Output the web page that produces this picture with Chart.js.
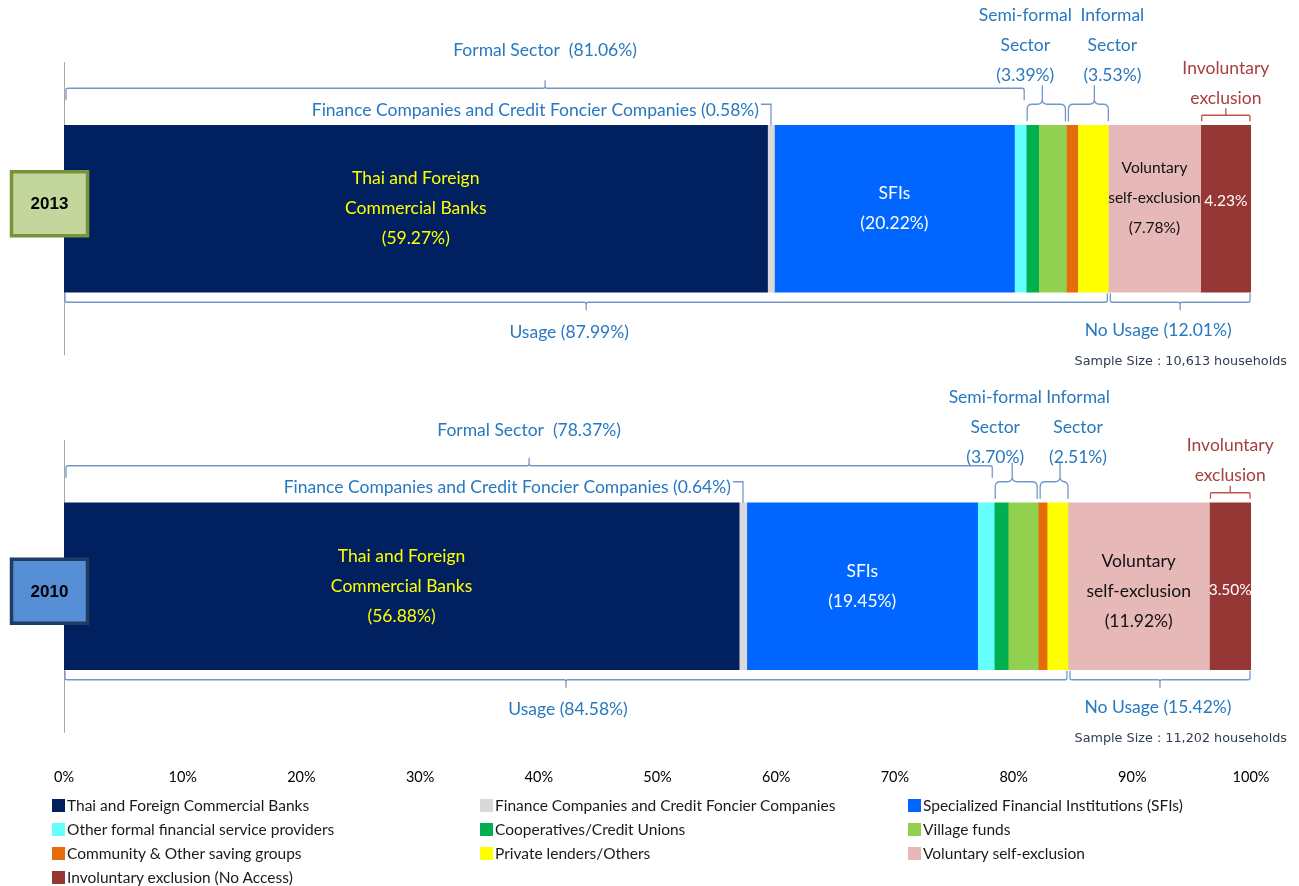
<!DOCTYPE html>
<html lang="en">
<head>
<meta charset="UTF-8">
<title>Access to financial services 2013 vs 2010</title>
<script src="https://cdn.jsdelivr.net/npm/chart.js"></script>
<style>
  body { margin: 0; background: #fff; }
  #wrap { position: relative; width: 1299px; height: 886px; overflow: hidden; }
  #legend {
    position: absolute; left: 52px; top: 793px; width: 1284px;
    display: grid; grid-template-columns: 428px 428px 428px;
    font-family: Lato, "Noto Sans", sans-serif; font-size: 15.5px; color: #1a1a1a;
  }
  #legend div { height: 24px; line-height: 24px; white-space: nowrap; }
  #legend span { display: inline-block; width: 13px; height: 13px; margin-right: 2px; vertical-align: -1px; }
</style>
</head>
<body>
<div id="wrap">
  <canvas id="chart" width="1299" height="886"></canvas>
  <div id="legend"></div>
</div>
<script>
// categories (top bar first)
const years = ['2013', '2010'];
const segments = [
  'Thai and Foreign Commercial Banks',
  'Finance Companies and Credit Foncier Companies',
  'Specialized Financial Institutions (SFIs)',
  'Other formal financial service providers',
  'Cooperatives/Credit Unions',
  'Village funds',
  'Community & Other saving groups',
  'Private lenders/Others',
  'Voluntary self-exclusion',
  'Involuntary exclusion (No Access)'
];
const colors = ['#002060', '#D9D9D9', '#0066FF', '#66FFFF', '#00B050', '#92D050', '#E46C0A', '#FFFF00', '#E6B9B8', '#953735'];

// share of households, % (same order as segments)
const share2013 = [59.27, 0.58, 20.22, 0.99, 1.05, 2.34, 0.95, 2.58, 7.78, 4.23];
const share2010 = [56.88, 0.64, 19.45, 1.40, 1.17, 2.53, 0.75, 1.76, 11.92, 3.50];

// group totals printed on the chart
const formalShare = [81.06, 78.37];
const semiShare = [3.39, 3.70];
const informalShare = [3.53, 2.51];
const usageShare = [87.99, 84.58];
const noUsageShare = [12.01, 15.42];
const sampleSize = ['10,613', '11,202'];

const xTicks = [0, 10, 20, 30, 40, 50, 60, 70, 80, 90, 100];

const FONT = 'Lato, "Noto Sans", sans-serif';
const BLUE_TXT = '#2878C0';
const BLUE_LINE = '#7398C8';
const RED_TXT = '#A4403D';
const RED_LINE = '#C0504D';

const shares = [share2013, share2010];

// legend
const legendEl = document.getElementById('legend');
segments.forEach((s, i) => {
  const d = document.createElement('div');
  d.innerHTML = '<span style="background:' + colors[i] + '"></span>' + s.replace('&', '&amp;');
  legendEl.appendChild(d);
});

function pct(v) { return v.toFixed(2) + '%'; }

// curly / square brace. ends at yEnd, horizontal at yLine, tip at yTip
function brace(ctx, x1, x2, xm, yEnd, yLine, yTip, r) {
  const d = Math.sign(yLine - yEnd);
  ctx.beginPath();
  ctx.moveTo(x1, yEnd);
  ctx.lineTo(x1, yLine - d * r);
  ctx.quadraticCurveTo(x1, yLine, x1 + r, yLine);
  ctx.lineTo(xm - r, yLine);
  ctx.quadraticCurveTo(xm, yLine, xm, yLine + d * r);
  ctx.lineTo(xm, yTip);
  ctx.moveTo(xm, yLine + d * r);
  ctx.quadraticCurveTo(xm, yLine, xm + r, yLine);
  ctx.lineTo(x2 - r, yLine);
  ctx.quadraticCurveTo(x2, yLine, x2, yLine - d * r);
  ctx.lineTo(x2, yEnd);
  ctx.stroke();
}

function lines(ctx, arr, x, yc, gap) {
  const y0 = yc - (arr.length - 1) * gap / 2;
  arr.forEach((t, k) => ctx.fillText(t, x, y0 + k * gap));
}

const annotations = {
  id: 'annotations',
  beforeDatasetsDraw(chart) {
    // y axis segments behind each bar
    const ctx = chart.ctx;
    const xs = chart.scales.x;
    ctx.save();
    ctx.strokeStyle = '#A6A6A6';
    ctx.lineWidth = 1;
    years.forEach((y, i) => {
      const el = chart.getDatasetMeta(0).data[i];
      const top = el.y - el.height / 2, bot = el.y + el.height / 2;
      ctx.beginPath();
      ctx.moveTo(xs.left + 0.5, top - 63);
      ctx.lineTo(xs.left + 0.5, bot + 63);
      ctx.stroke();
    });
    ctx.restore();
  },
  afterDatasetsDraw(chart) {
    const ctx = chart.ctx;
    const xs = chart.scales.x;
    const px = v => xs.getPixelForValue(v);
    ctx.save();
    years.forEach((year, i) => {
      const data = shares[i];
      const cum = [0];
      data.forEach(v => cum.push(cum[cum.length - 1] + v));
      const el = chart.getDatasetMeta(0).data[i];
      const T = el.y - el.height / 2, B = el.y + el.height / 2, C = el.y;
      const mid = k => px((cum[k] + cum[k + 1]) / 2);
      const first = i === 0;

      ctx.textAlign = 'center';
      ctx.textBaseline = 'middle';
      ctx.font = '17.5px ' + FONT;

      // labels inside the bar
      ctx.fillStyle = '#FFFF00';
      lines(ctx, ['Thai and Foreign', 'Commercial Banks', '(' + pct(data[0]) + ')'], mid(0), C, 30);
      ctx.fillStyle = '#FFFFFF';
      lines(ctx, ['SFIs', '(' + pct(data[2]) + ')'], mid(2), C, 30);
      ctx.fillStyle = '#111111';
      ctx.font = (first ? '15.5px ' : '17.5px ') + FONT;
      lines(ctx, ['Voluntary', 'self-exclusion', '(' + pct(data[8]) + ')'], mid(8), C + (first ? -11 : 5), 30);
      ctx.fillStyle = '#FFFFFF';
      ctx.font = '15.5px ' + FONT;
      ctx.fillText(pct(data[9]), mid(9), C + (first ? -8 : 4));
      ctx.font = '17.5px ' + FONT;

      // formal sector
      ctx.strokeStyle = BLUE_LINE;
      ctx.lineWidth = 1.3;
      const xf0 = px(0) + 2, xf1 = px(cum[4]) - 2;
      brace(ctx, xf0, xf1, (xf0 + xf1) / 2, T - 25, T - 37, T - 45, 2);
      ctx.fillStyle = BLUE_TXT;
      ctx.fillText('Formal Sector  (' + pct(formalShare[i]) + ')', (xf0 + xf1) / 2, T - (first ? 75 : 72));

      // finance companies leader
      ctx.textAlign = 'right';
      const xl = mid(1);
      ctx.fillText(segments[1] + ' (' + pct(data[1]) + ')', xl - 12, T - 15);
      ctx.beginPath();
      ctx.moveTo(xl - 10, T - 21);
      ctx.lineTo(xl, T - 21);
      ctx.lineTo(xl, T);
      ctx.stroke();
      ctx.textAlign = 'center';

      // semi-formal and informal braces
      const xs0 = px(cum[4]) + 1, xs1 = px(cum[6]) - 1;
      const xsm = (xs0 + xs1) / 2 - 4;
      brace(ctx, xs0, xs1, xsm, T - 4, T - 21, T - 40, 5);
      const xi0 = px(cum[6]) + 2, xi1 = px(cum[8]);
      const xim = (xi0 + xi1) / 2 + 6;
      brace(ctx, xi0, xi1, xim, T - 4, T - 21, T - 40, 5);
      const ys = T - (first ? 80 : 75);
      lines(ctx, ['Semi-formal', 'Sector', '(' + pct(semiShare[i]) + ')'], (xs0 + xs1) / 2 - 21, ys, 30);
      lines(ctx, ['Informal', 'Sector', '(' + pct(informalShare[i]) + ')'], (xi0 + xi1) / 2 + 24, ys, 30);

      // involuntary exclusion
      ctx.strokeStyle = RED_LINE;
      const xv0 = px(cum[9]) + 1, xv1 = px(100) - 1;
      brace(ctx, xv0, xv1, (xv0 + xv1) / 2, T - 4, T - 10, T - 17, 1);
      ctx.fillStyle = RED_TXT;
      lines(ctx, ['Involuntary', 'exclusion'], (xv0 + xv1) / 2, T - 42, 30);

      // usage / no usage
      ctx.strokeStyle = BLUE_LINE;
      const xu0 = px(0) + 1, xu1 = px(cum[8]) - 1;
      brace(ctx, xu0, xu1, (xu0 + xu1) / 2, B + 1, B + 10, B + 18, 2);
      const xn0 = px(cum[8]) + 2, xn1 = px(100) - 1;
      brace(ctx, xn0, xn1, (xn0 + xn1) / 2, B + 1, B + 10, B + 18, 2);
      ctx.fillStyle = BLUE_TXT;
      ctx.fillText('Usage (' + pct(usageShare[i]) + ')', (xu0 + xu1) / 2 + (first ? -17 : 2), B + 40);
      ctx.fillText('No Usage (' + pct(noUsageShare[i]) + ')', (xn0 + xn1) / 2 + (first ? -22 : -2), B + 38);

      // sample size
      ctx.textAlign = 'right';
      ctx.fillStyle = '#2F3D52';
      ctx.font = '12.8px "DejaVu Sans", sans-serif';
      ctx.fillText('Sample Size : ' + sampleSize[i] + ' households', 1287, B + 69);

      // year box
      const bx = 10, bw = 79, bh = 67, by = C - bh / 2 + (first ? -5 : 5);
      ctx.fillStyle = first ? '#C3D69B' : '#558ED5';
      ctx.strokeStyle = first ? '#77933C' : '#1F3C63';
      ctx.lineWidth = 3.5;
      ctx.beginPath();
      ctx.rect(bx + 1.5, by + 1.5, bw - 3, bh - 3);
      ctx.fill();
      ctx.stroke();
      ctx.fillStyle = '#000';
      ctx.textAlign = 'center';
      ctx.font = 'bold 17px "Liberation Sans", Arial, sans-serif';
      ctx.fillText(year, bx + bw / 2, by + bh / 2 + 1);
    });
    ctx.restore();
  }
};

Chart.defaults.font.family = FONT;
Chart.defaults.color = '#000';

const ctx = document.getElementById('chart').getContext('2d');
new Chart(ctx, {
  type: 'bar',
  data: {
    labels: years,
    datasets: segments.map((s, k) => ({
      label: s,
      data: shares.map(arr => arr[k]),
      backgroundColor: colors[k],
      borderWidth: 0,
      barThickness: 167
    }))
  },
  options: {
    indexAxis: 'y',
    responsive: false,
    animation: false,
    layout: { padding: { left: 64, right: 48, top: 20, bottom: 111 } },
    plugins: { legend: { display: false }, tooltip: { enabled: false } },
    scales: {
      x: {
        stacked: true,
        min: 0,
        max: 100,
        afterBuildTicks: scale => { scale.ticks = xTicks.map(v => ({ value: v })); },
        // tick labels sit just under the lower bar group, overlapping the plot box
        afterFit: scale => { scale.height = 0; },
        ticks: { mirror: true, padding: -11, font: { size: 14.5 }, color: '#000', callback: v => v + '%' },
        grid: { display: false, drawTicks: false },
        border: { display: false }
      },
      y: {
        stacked: true,
        display: false
      }
    }
  },
  plugins: [annotations]
});
</script>
</body>
</html>
